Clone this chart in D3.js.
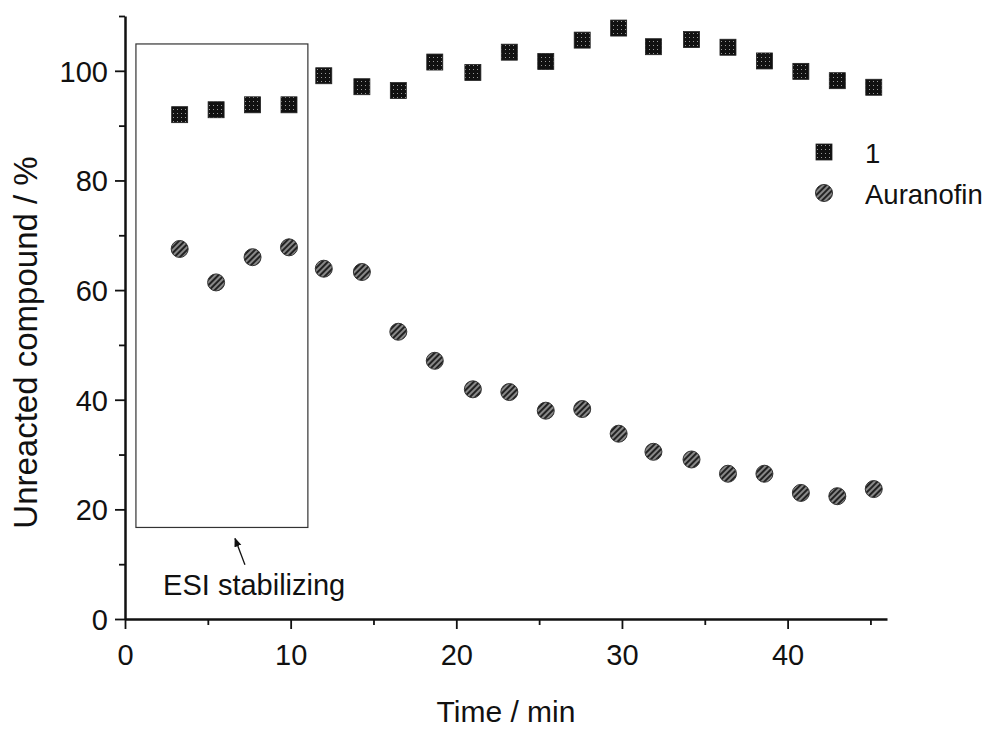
<!DOCTYPE html>
<html>
<head>
<meta charset="utf-8">
<script src="https://cdn.jsdelivr.net/npm/d3@7"></script>
<style>
  body { margin: 0; background: #fff; }
  svg text { font-family: "Liberation Sans", Arial, sans-serif; fill: #111; }
</style>
</head>
<body>
<div id="chart"></div>
<script>
// time points (min)
var times = [3.3, 5.5, 7.7, 9.9, 12.0, 14.3, 16.5, 18.7, 21.0, 23.2, 25.4, 27.6, 29.8, 31.9, 34.2, 36.4, 38.6, 40.8, 43.0, 45.2];
// unreacted compound 1 (%)
var compound1 = [92.0, 92.9, 93.8, 93.8, 99.1, 97.1, 96.4, 101.6, 99.7, 103.4, 101.7, 105.6, 107.8, 104.4, 105.7, 104.3, 101.8, 99.9, 98.2, 97.0];
// unreacted auranofin (%)
var auranofin = [67.5, 61.4, 66.0, 67.8, 63.9, 63.3, 52.4, 47.1, 41.9, 41.4, 38.0, 38.3, 33.8, 30.5, 29.1, 26.5, 26.5, 23.0, 22.4, 23.7];
var seriesNames = ["1", "Auranofin"];
var xTicks = [0, 10, 20, 30, 40];
var yTicks = [0, 20, 40, 60, 80, 100];

var W = 992, H = 729;
var margin = {left: 125, right: 105, top: 16, bottom: 110};

var svg = d3.select("#chart").append("svg")
    .attr("width", W)
    .attr("height", H);

var defs = svg.append("defs");
// halftone look of the scanned markers
var dots = defs.append("pattern")
    .attr("id", "dots")
    .attr("width", 4).attr("height", 4)
    .attr("patternUnits", "userSpaceOnUse");
dots.append("rect").attr("width", 4).attr("height", 4).attr("fill", "#111");
dots.append("rect").attr("x", 1).attr("y", 1).attr("width", 1).attr("height", 1).attr("fill", "#999");
var hatch = defs.append("pattern")
    .attr("id", "hatch")
    .attr("width", 4).attr("height", 4)
    .attr("patternUnits", "userSpaceOnUse")
    .attr("patternTransform", "rotate(45)");
hatch.append("rect").attr("width", 4).attr("height", 4).attr("fill", "#888");
hatch.append("rect").attr("width", 2).attr("height", 4).attr("fill", "#222");

var x = d3.scaleLinear().domain([0, 46]).range([margin.left, W - margin.right]);
var y = d3.scaleLinear().domain([0, 110]).range([H - margin.bottom, margin.top]);

// ESI stabilizing box + arrow
svg.append("rect")
    .attr("x", x(0.66))
    .attr("y", y(104.9))
    .attr("width", x(11.04) - x(0.66))
    .attr("height", y(16.7) - y(104.9))
    .attr("fill", "none")
    .attr("stroke", "#333")
    .attr("stroke-width", 1.2);

defs.append("marker")
    .attr("id", "arrow")
    .attr("viewBox", "0 0 10 10")
    .attr("refX", 9).attr("refY", 5)
    .attr("markerWidth", 7).attr("markerHeight", 7)
    .attr("orient", "auto")
    .append("path")
    .attr("d", "M0,1 L10,5 L0,9 Z")
    .attr("fill", "#111");

svg.append("line")
    .attr("x1", x(7.24)).attr("y1", y(9.9))
    .attr("x2", x(6.64)).attr("y2", y(14.7))
    .attr("stroke", "#111")
    .attr("stroke-width", 1.3)
    .attr("marker-end", "url(#arrow)");

svg.append("text")
    .attr("x", x(2.3))
    .attr("y", y(4.4))
    .attr("font-size", "29px")
    .text("ESI stabilizing");

// axes
var xAxis = svg.append("g")
    .attr("class", "axis axis--x")
    .attr("transform", "translate(0," + y(0) + ")")
    .call(d3.axisBottom(x).tickValues(xTicks).tickSize(10).tickSizeOuter(0));
xAxis.append("g")
    .call(d3.axisBottom(x).tickValues([5, 15, 25, 35, 45]).tickSize(6).tickFormat(""))
    .select(".domain").remove();

var yAxis = svg.append("g")
    .attr("class", "axis axis--y")
    .attr("transform", "translate(" + x(0) + ",0)")
    .call(d3.axisLeft(y).tickValues(yTicks).tickSize(10).tickSizeOuter(0));
yAxis.append("g")
    .call(d3.axisLeft(y).tickValues([10, 30, 50, 70, 90, 110]).tickSize(6).tickFormat(""))
    .select(".domain").remove();

svg.selectAll(".axis .domain").attr("stroke", "#111").attr("stroke-width", 2.5);
svg.selectAll(".axis line").attr("stroke", "#111").attr("stroke-width", 1.8);
svg.selectAll(".axis text")
    .attr("font-size", "29px")
    .attr("font-family", "Liberation Sans, Arial, sans-serif")
    .attr("fill", "#111");
xAxis.selectAll("text").attr("dy", "0").attr("y", 46);
yAxis.selectAll("text").attr("x", -17).attr("dy", "0.36em");

// axis titles
svg.append("text")
    .attr("x", (x(0) + x(46)) / 2)
    .attr("y", 722)
    .attr("text-anchor", "middle")
    .attr("font-size", "30px")
    .text("Time / min");

svg.append("text")
    .attr("transform", "translate(37," + ((y(0) + y(110)) / 2 + 25) + ") rotate(-90)")
    .attr("text-anchor", "middle")
    .attr("font-size", "33px")
    .text("Unreacted compound / %");

// data
var data1 = times.map(function (t, i) { return {t: t, v: compound1[i]}; });
var data2 = times.map(function (t, i) { return {t: t, v: auranofin[i]}; });
var sq = 16;

svg.append("g").selectAll("rect")
    .data(data1)
    .enter().append("rect")
    .attr("x", function (d) { return x(d.t) - sq / 2; })
    .attr("y", function (d) { return y(d.v) - sq / 2; })
    .attr("width", sq)
    .attr("height", sq)
    .attr("fill", "url(#dots)")
    .attr("stroke", "#222")
    .attr("stroke-width", 0.8);

svg.append("g").selectAll("circle")
    .data(data2)
    .enter().append("circle")
    .attr("cx", function (d) { return x(d.t); })
    .attr("cy", function (d) { return y(d.v); })
    .attr("r", 8.5)
    .attr("fill", "url(#hatch)")
    .attr("stroke", "#333")
    .attr("stroke-width", 1);

// legend
var legend = svg.append("g").attr("transform", "translate(824,152)");
legend.append("rect")
    .attr("x", -sq / 2).attr("y", -sq / 2)
    .attr("width", sq).attr("height", sq)
    .attr("fill", "url(#dots)")
    .attr("stroke", "#222")
    .attr("stroke-width", 0.8);
legend.append("circle")
    .attr("cx", 0).attr("cy", 41)
    .attr("r", 8.5)
    .attr("fill", "url(#hatch)")
    .attr("stroke", "#333");
legend.selectAll("text.lg")
    .data(seriesNames)
    .enter().append("text")
    .attr("class", "lg")
    .attr("x", 41)
    .attr("y", function (d, i) { return 11 + i * 41; })
    .attr("font-size", "27.5px")
    .text(function (d) { return d; });
</script>
</body>
</html>
